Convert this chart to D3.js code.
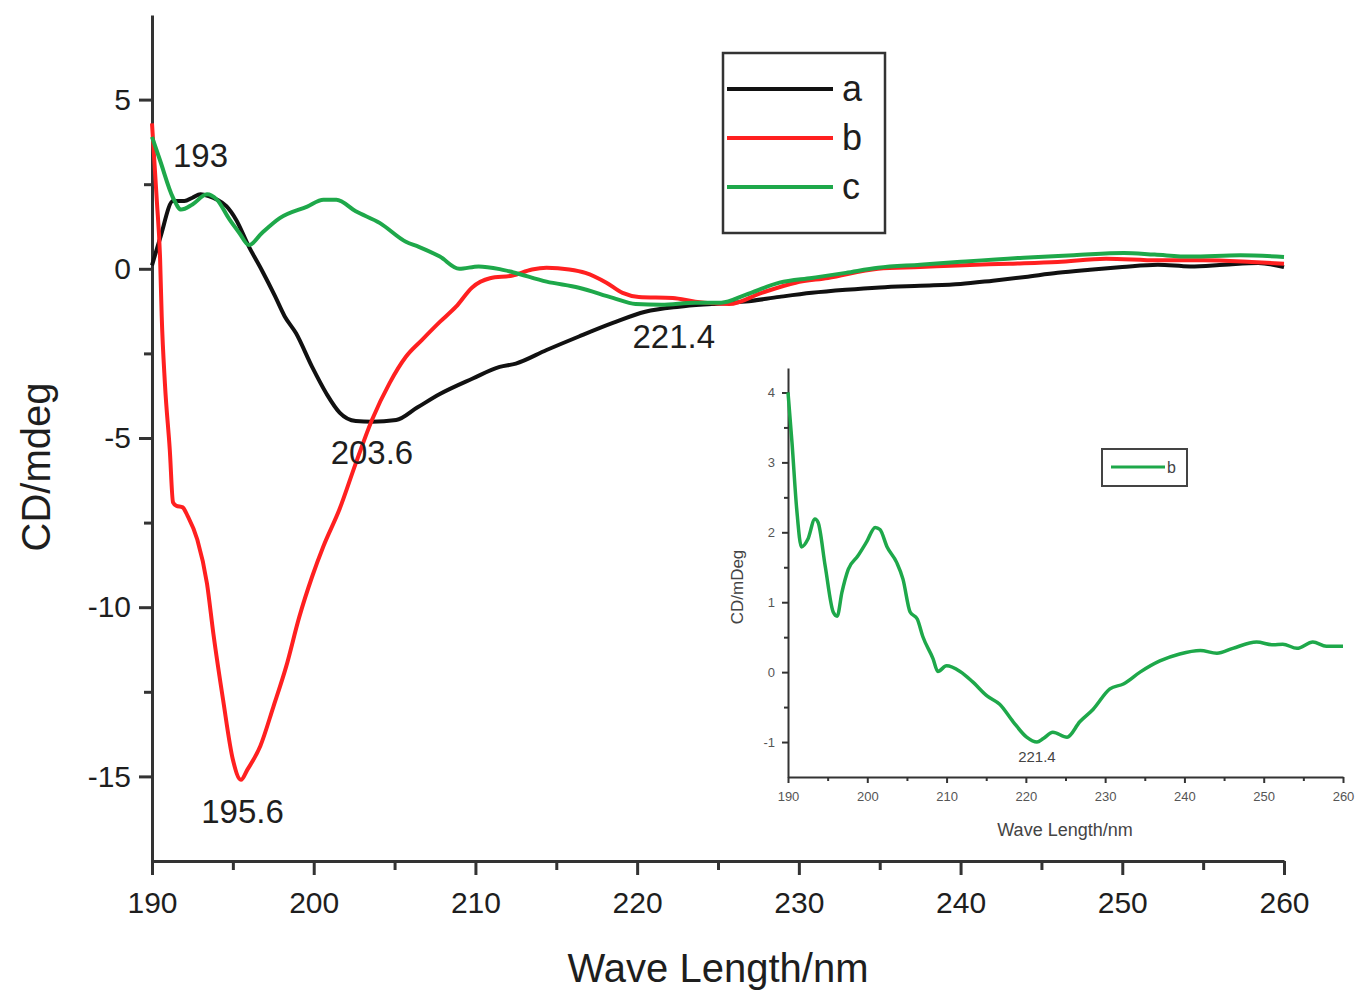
<!DOCTYPE html>
<html><head><meta charset="utf-8">
<script src="https://cdn.jsdelivr.net/npm/d3@7"></script>
<style>html,body{margin:0;padding:0;background:#fff;}svg{display:block;}</style>
</head><body>
<svg id="c" width="1357" height="991"></svg>
<script>
// ---- data (wavelength nm, CD mdeg) ----
const seriesNames = ["a", "b", "c"];
const seriesColors = ["#111111", "#ff2020", "#1ea84a"];
const seriesA = [[190,0.1],[190.5,0.9],[191.3,2.0],[192,2.0],[192.5,2.1],[193,2.2],[193.5,2.15],[194,2.05],[194.6,1.85],[195.2,1.45],[196,0.65],[196.8,-0.05],[197.6,-0.8],[198.2,-1.4],[198.9,-1.9],[199.9,-2.9],[200.8,-3.7],[201.6,-4.25],[202.6,-4.5],[203.6,-4.52],[205.1,-4.47],[206.4,-4.1],[207.8,-3.7],[209.8,-3.25],[211.5,-2.9],[212.5,-2.8],[214.4,-2.4],[216.4,-2.0],[218.5,-1.6],[220.5,-1.27],[222.6,-1.12],[224.6,-1.04],[226.7,-0.97],[228.8,-0.83],[230.8,-0.71],[232.9,-0.62],[235,-0.55],[237.5,-0.5],[240,-0.45],[242,-0.35],[244,-0.24],[246,-0.12],[248,-0.03],[250,0.05],[252.2,0.12],[254.2,0.07],[256.3,0.12],[258.4,0.17],[260,0.05]];
const seriesB = [[190,4.3],[190.3,2.0],[190.5,0.3],[190.6,-1.4],[190.8,-3.4],[191.1,-5.35],[191.3,-6.9],[191.5,-7.0],[191.9,-7.05],[192.2,-7.3],[192.8,-8.0],[193.4,-9.3],[193.8,-10.8],[194.4,-12.75],[195,-14.5],[195.5,-15.1],[195.9,-14.8],[196.7,-14.1],[197.5,-12.95],[198.3,-11.75],[199.1,-10.3],[199.9,-9.1],[200.6,-8.2],[201.6,-7.1],[202.6,-5.75],[203.6,-4.47],[204.7,-3.37],[205.7,-2.6],[206.7,-2.1],[207.8,-1.57],[208.8,-1.12],[209.8,-0.55],[210.9,-0.28],[212.3,-0.2],[213.5,-0.02],[214.4,0.03],[215.8,-0.02],[216.8,-0.12],[218.1,-0.41],[219.1,-0.71],[220.1,-0.83],[222.2,-0.86],[223.6,-0.97],[225.7,-1.04],[227.7,-0.71],[229.8,-0.41],[231.8,-0.27],[234.9,0.0],[237.5,0.05],[239.8,0.1],[243,0.15],[246,0.2],[249,0.3],[252.2,0.25],[255,0.25],[258,0.2],[260,0.15]];
const seriesC = [[190,3.9],[190.5,3.2],[191.3,2.1],[191.8,1.75],[192.5,1.9],[193.4,2.2],[194,2.05],[194.8,1.45],[195.4,1.06],[196,0.7],[196.8,1.06],[197.9,1.5],[199.6,1.84],[200.6,2.04],[201.4,2.04],[202.6,1.7],[204.1,1.35],[205.7,0.8],[206.5,0.65],[207.8,0.36],[209,0.0],[210.2,0.07],[211.5,-0.01],[212.3,-0.1],[214.4,-0.38],[216.4,-0.56],[218.5,-0.86],[219.9,-1.04],[221.5,-1.06],[223.6,-1.0],[225.2,-1.0],[226.7,-0.77],[228.8,-0.41],[230.8,-0.27],[232.9,-0.12],[234.9,0.03],[237.5,0.12],[239.8,0.2],[243.9,0.33],[247,0.4],[250.1,0.47],[252,0.42],[254.2,0.36],[257.3,0.4],[260,0.35]];
const insetSeries = [[190,4.0],[190.5,3.29],[191.1,2.33],[191.7,1.79],[192.5,1.9],[193.4,2.19],[193.8,2.14],[194.7,1.51],[195.7,0.86],[196.2,0.8],[196.8,1.14],[197.6,1.47],[198.8,1.66],[199.9,1.86],[201,2.07],[201.6,2.04],[202.5,1.79],[203.7,1.57],[204.5,1.33],[205.4,0.86],[206.3,0.76],[207,0.51],[208.3,0.19],[208.9,0.01],[210,0.09],[211.7,0.01],[213.3,-0.14],[215.1,-0.34],[216.7,-0.46],[218.4,-0.71],[220.1,-0.93],[221.4,-1.0],[222.2,-0.95],[223.4,-0.86],[225.2,-0.93],[226.8,-0.71],[228.5,-0.53],[230.6,-0.24],[232.3,-0.17],[234.4,0.0],[236.9,0.16],[239.4,0.26],[242,0.31],[244.1,0.27],[246.1,0.34],[249.1,0.43],[251.2,0.39],[252.4,0.40],[254.2,0.34],[256.2,0.43],[257.9,0.37],[260,0.37]];
const xMajorTicks = [190,200,210,220,230,240,250,260];
const xMinorTicks = [195,205,215,225,235,245,255];
const yMajorTicks = [5,0,-5,-10,-15];
const yMinorTicks = [2.5,-2.5,-7.5,-12.5];
const annotations = [{t:"193",x:193,y:2.2},{t:"195.6",x:195.6,y:-15.1},{t:"203.6",x:203.6,y:-4.5},{t:"221.4",x:221.4,y:-1.1}];
const insetYMajor = [4,3,2,1,0,-1];
const insetYMinor = [3.5,2.5,1.5,0.5,-0.5];
const insetLegend = "b";
const insetAnnotation = {t:"221.4",x:221.4,y:-1.0};

const svg = d3.select("#c");
const FONT = "'Liberation Sans', Arial, sans-serif";
const axisColor = "#333";

// ---- main chart ----
const x = d3.scaleLinear().domain([190,260]).range([152,1284]);
const y = d3.scaleLinear().domain([-17.5,7.5]).range([861,15]);

function styleAxis(g, w){
  g.select(".domain").attr("stroke",axisColor).attr("stroke-width",w);
  g.selectAll(".tick line").attr("stroke",axisColor).attr("stroke-width",w);
}
const gx = svg.append("g").attr("transform","translate(0,861)")
  .call(d3.axisBottom(x).tickValues(xMajorTicks).tickSize(14).tickSizeOuter(0).tickPadding(17).tickFormat(d3.format("d")));
styleAxis(gx,3);
gx.selectAll("text").attr("font-family",FONT).attr("font-size",30).attr("fill","#1e1e1e");
const gxm = svg.append("g").attr("transform","translate(0,861)")
  .call(d3.axisBottom(x).tickValues(xMinorTicks).tickSize(9).tickFormat(""));
styleAxis(gxm,3); gxm.select(".domain").remove();

const gy = svg.append("g").attr("transform","translate(152,0)")
  .call(d3.axisLeft(y).tickValues(yMajorTicks).tickSize(13).tickSizeOuter(0).tickPadding(8).tickFormat(d=>d));
styleAxis(gy,3);
gy.selectAll("text").attr("font-family",FONT).attr("font-size",30).attr("fill","#1e1e1e");
const gym = svg.append("g").attr("transform","translate(152,0)")
  .call(d3.axisLeft(y).tickValues(yMinorTicks).tickSize(8).tickFormat(""));
styleAxis(gym,3); gym.select(".domain").remove();

svg.append("text").attr("x",718).attr("y",982).attr("text-anchor","middle")
  .attr("font-family",FONT).attr("font-size",40).attr("fill","#1e1e1e").text("Wave Length/nm");
svg.append("text").attr("transform","translate(50,467) rotate(-90)").attr("text-anchor","middle")
  .attr("font-family",FONT).attr("font-size",40).attr("fill","#1e1e1e").text("CD/mdeg");

const line = d3.line().x(d=>x(d[0])).y(d=>y(d[1])).curve(d3.curveMonotoneX);
const allSeries = [seriesA, seriesB, seriesC];
allSeries.forEach((s,i)=>{
  svg.append("path").datum(s).attr("d",line).attr("fill","none")
    .attr("stroke",seriesColors[i]).attr("stroke-width",4).attr("stroke-linejoin","round");
});

// annotations
const annOffsets = {"193":[0,-27],"195.6":[0,43],"203.6":[0,43],"221.4":[14,42]};
annotations.forEach(a=>{
  const o = annOffsets[a.t];
  svg.append("text").attr("x",x(a.x)+o[0]).attr("y",y(a.y)+o[1]).attr("text-anchor","middle")
    .attr("font-family",FONT).attr("font-size",33).attr("fill","#1e1e1e").text(a.t);
});

// legend
const lg = svg.append("g");
lg.append("rect").attr("x",723).attr("y",53).attr("width",162).attr("height",180)
  .attr("fill","#fff").attr("stroke",axisColor).attr("stroke-width",2.5);
seriesNames.forEach((n,i)=>{
  const yy = 89 + i*49;
  lg.append("line").attr("x1",727).attr("x2",833).attr("y1",yy).attr("y2",yy)
    .attr("stroke",seriesColors[i]).attr("stroke-width",4);
  lg.append("text").attr("x",842).attr("y",yy+12).attr("font-family",FONT).attr("font-size",36)
    .attr("fill","#1e1e1e").text(n);
});

// ---- inset ----
const ix = d3.scaleLinear().domain([190,260]).range([788,1343]);
const iy = d3.scaleLinear().domain([-1.5,4.35]).range([777,368]);
const igx = svg.append("g").attr("transform","translate(0,777)")
  .call(d3.axisBottom(ix).tickValues(xMajorTicks).tickSize(6).tickSizeOuter(0).tickPadding(9).tickFormat(d3.format("d")));
styleAxis(igx,2);
igx.selectAll("text").attr("font-family",FONT).attr("font-size",13).attr("fill","#555");
const igxm = svg.append("g").attr("transform","translate(0,777)")
  .call(d3.axisBottom(ix).tickValues(xMinorTicks).tickSize(4).tickFormat(""));
styleAxis(igxm,2); igxm.select(".domain").remove();
const igy = svg.append("g").attr("transform","translate(788,0)")
  .call(d3.axisLeft(iy).tickValues(insetYMajor).tickSize(6).tickSizeOuter(0).tickPadding(7).tickFormat(d=>d));
styleAxis(igy,2);
igy.selectAll("text").attr("font-family",FONT).attr("font-size",13).attr("fill","#555");
const igym = svg.append("g").attr("transform","translate(788,0)")
  .call(d3.axisLeft(iy).tickValues(insetYMinor).tickSize(4).tickFormat(""));
styleAxis(igym,2); igym.select(".domain").remove();

svg.append("text").attr("x",1065).attr("y",836).attr("text-anchor","middle")
  .attr("font-family",FONT).attr("font-size",18).attr("fill","#444").text("Wave Length/nm");
svg.append("text").attr("transform","translate(743,587) rotate(-90)").attr("text-anchor","middle")
  .attr("font-family",FONT).attr("font-size",17).attr("fill","#444").text("CD/mDeg");

const iline = d3.line().x(d=>ix(d[0])).y(d=>iy(d[1])).curve(d3.curveMonotoneX);
svg.append("path").datum(insetSeries).attr("d",iline).attr("fill","none")
  .attr("stroke",seriesColors[2]).attr("stroke-width",3.5).attr("stroke-linejoin","round");
svg.append("text").attr("x",ix(insetAnnotation.x)).attr("y",iy(insetAnnotation.y)+20).attr("text-anchor","middle")
  .attr("font-family",FONT).attr("font-size",15).attr("fill","#444").text(insetAnnotation.t);

svg.append("rect").attr("x",1102).attr("y",449).attr("width",85).attr("height",37)
  .attr("fill","#fff").attr("stroke","#444").attr("stroke-width",2);
svg.append("line").attr("x1",1111).attr("x2",1165).attr("y1",467).attr("y2",467)
  .attr("stroke",seriesColors[2]).attr("stroke-width",3);
svg.append("text").attr("x",1167).attr("y",473).attr("font-family",FONT).attr("font-size",16)
  .attr("fill","#444").text(insetLegend);
</script>
</body></html>
